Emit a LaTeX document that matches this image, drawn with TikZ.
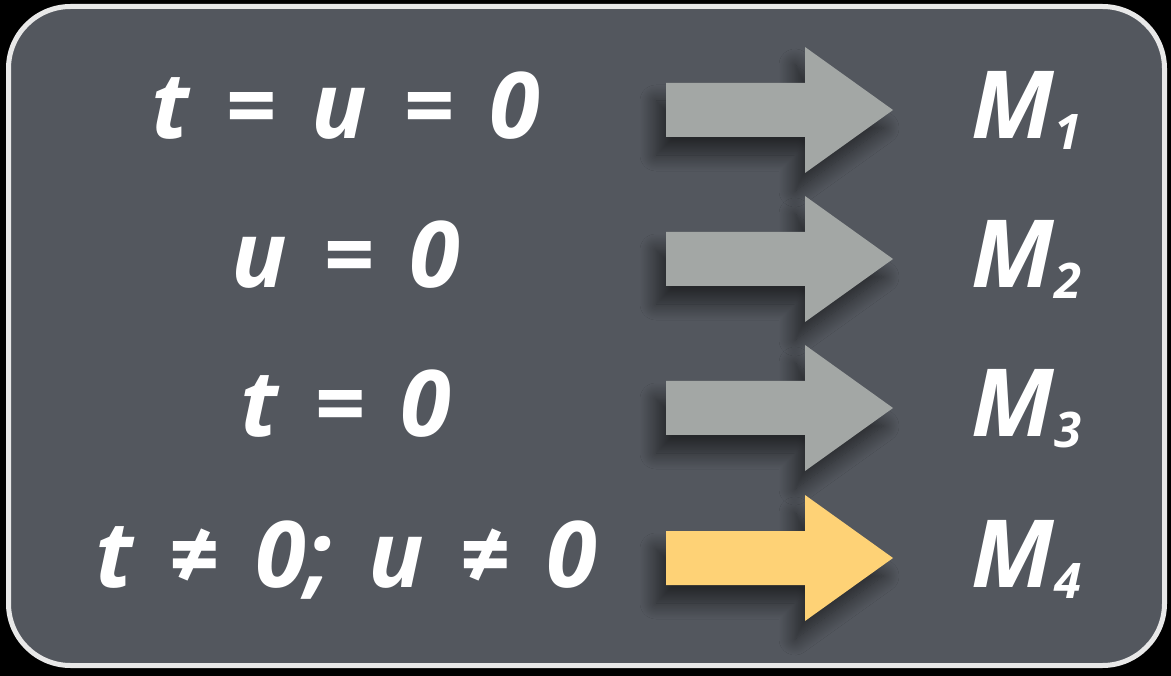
\documentclass[tikz,border=0pt]{standalone}
\usepackage{fontspec}
\setmainfont{Open Sans}
\usepackage{tikz}
\usetikzlibrary{shadows.blur}
\definecolor{panel}{RGB}{83,87,94}
\definecolor{rim}{RGB}{232,232,232}
\definecolor{arrgray}{RGB}{163,167,165}
\definecolor{arrgold}{RGB}{254,210,118}

\tikzset{
  cond/.style={anchor=base, text=white,
    font=\fontsize{92}{96}\selectfont\bfseries\itshape,
    execute at begin node={\spaceskip=0.39em\relax}},
  model/.style={anchor=base west, text=white, font=\fontsize{94}{96}\selectfont\bfseries\itshape},
  blockshadow/.style={blur shadow={shadow xshift=-10pt, shadow yshift=-18pt,
      shadow blur radius=16pt, shadow blur steps=20, shadow opacity=55}}
}
\newcommand{\sub}[1]{\raisebox{-11pt}{\fontsize{49}{50}\selectfont #1}}

\begin{document}
\begin{tikzpicture}[x=1pt, y=-1pt]
\useasboundingbox (0,0) rectangle (1171,676);
\fill[black] (0,0) rectangle (1171,676);
% ---- panel
\draw[rim, line width=5pt, fill=panel, rounded corners=62pt] (8.5,6.5) rectangle (1164.5,665.5);
% ---- block arrows
\foreach \yy/\col in {110/arrgray, 259/arrgray, 408/arrgray, 558/arrgold}{
  \fill[\col, blockshadow] (666,\yy-27) -- (805,\yy-27) -- (805,\yy-63) -- (893,\yy)
    -- (805,\yy+63) -- (805,\yy+27) -- (666,\yy+27) -- cycle;
}
% ---- conditions
\node[cond] (c1) at (346,139) {t = u = 0};
\node[cond] (c2) at (346,288) {u = 0};
\node[cond] (c3) at (346,437) {t = 0};
\node[cond] (c4) at (346,587) {t ≠ 0; u ≠ 0};
% ---- models
\node[model] (m1) at (968,139) {M\sub{1}};
\node[model] (m2) at (968,288) {M\sub{2}};
\node[model] (m3) at (968,437) {M\sub{3}};
\node[model] (m4) at (968,587) {M\sub{4}};
\end{tikzpicture}
\end{document}
